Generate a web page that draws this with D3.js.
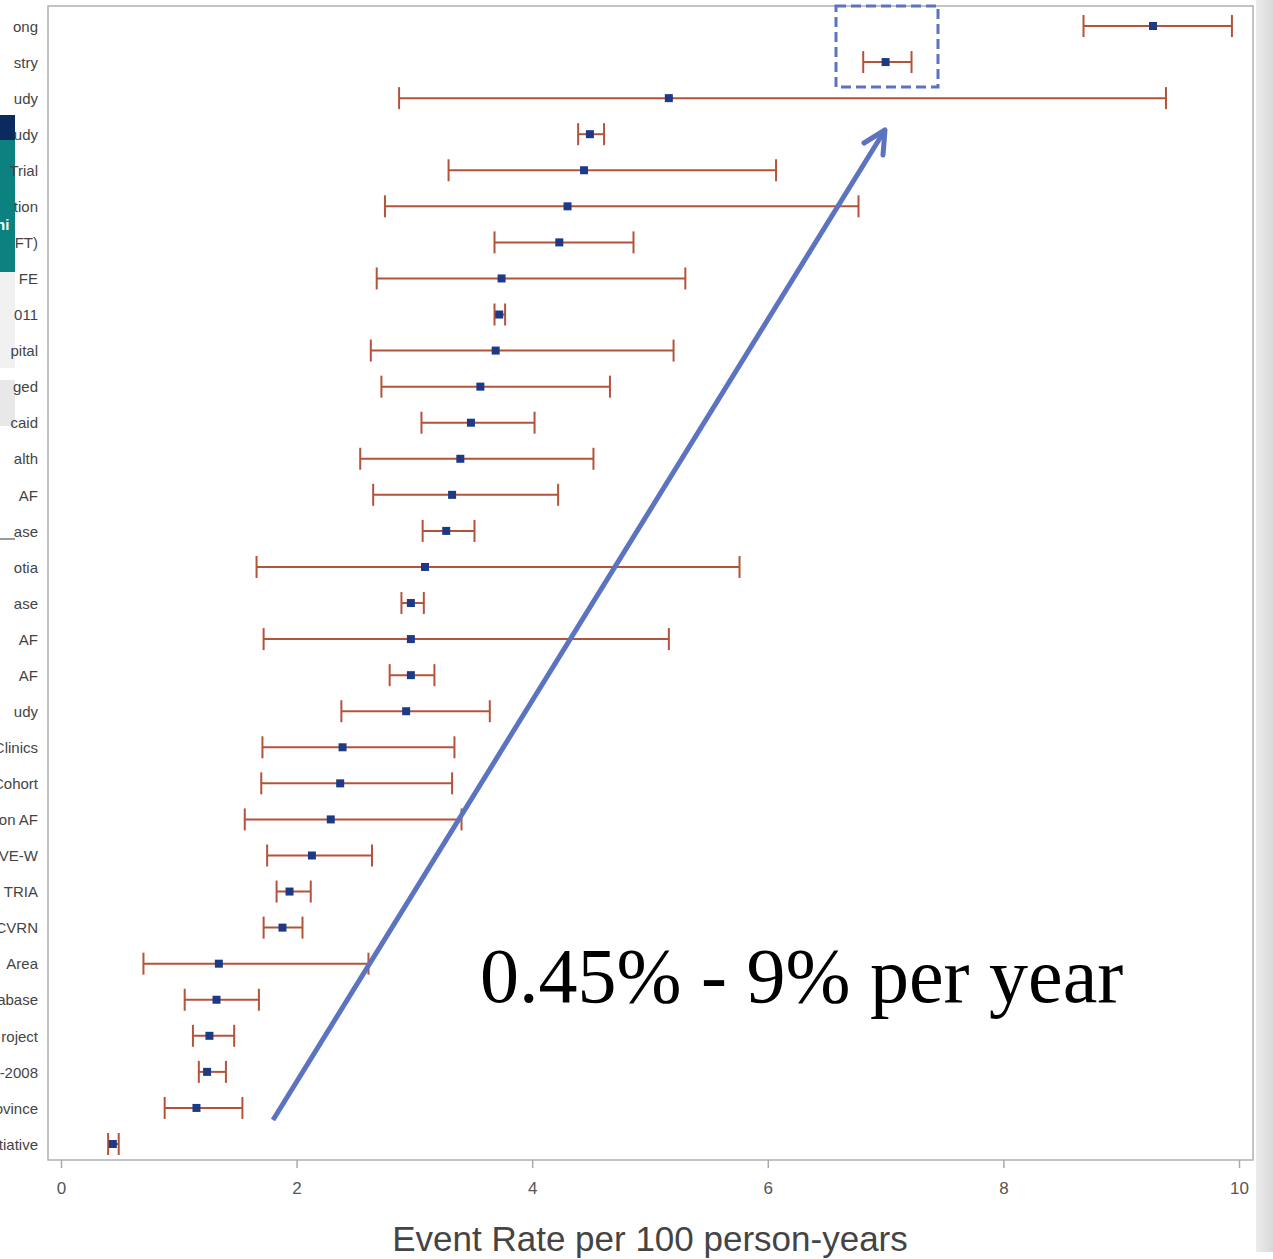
<!DOCTYPE html>
<html>
<head>
<meta charset="utf-8">
<script src="https://cdn.jsdelivr.net/npm/d3@7"></script>
<style>
  body { margin: 0; background: #fff; }
  svg { display: block; }
</style>
</head>
<body>
<script>
// visible (clipped) study labels, top to bottom
const labels = ["ong", "stry", "udy", "udy", "Trial", "tion", "FT)", "FE", "011", "pital",
  "ged", "caid", "alth", "AF", "ase", "otia", "ase", "AF", "AF", "udy",
  "Clinics", "Cohort", "on AF", "VE-W", "TRIA", "CVRN", "Area", "abase", "roject", "-2008",
  "ovince", "tiative"];
const rates = [9.27, 7.00, 5.16, 4.49, 4.44, 4.30, 4.23, 3.74, 3.72, 3.69,
  3.56, 3.48, 3.39, 3.32, 3.27, 3.09, 2.97, 2.97, 2.97, 2.93,
  2.39, 2.37, 2.29, 2.13, 1.94, 1.88, 1.34, 1.32, 1.26, 1.24,
  1.15, 0.44];
const lower = [8.68, 6.81, 2.87, 4.39, 3.29, 2.75, 3.68, 2.68, 3.68, 2.63,
  2.72, 3.06, 2.54, 2.65, 3.07, 1.66, 2.89, 1.72, 2.79, 2.38,
  1.71, 1.70, 1.56, 1.75, 1.83, 1.72, 0.70, 1.05, 1.12, 1.17,
  0.88, 0.40];
const upper = [9.94, 7.22, 9.38, 4.61, 6.07, 6.77, 4.86, 5.30, 3.77, 5.20,
  4.66, 4.02, 4.52, 4.22, 3.51, 5.76, 3.08, 5.16, 3.17, 3.64,
  3.34, 3.32, 3.40, 2.64, 2.12, 2.05, 2.61, 1.68, 1.47, 1.40,
  1.54, 0.49];
const xTicks = [0, 2, 4, 6, 8, 10];
const xTitle = "Event Rate per 100 person-years";
const note = "0.45% - 9% per year";

const width = 1273, height = 1259;
const frame = {left: 48, right: 1253, top: 6, bottom: 1160};

const svg = d3.select("body").append("svg").attr("width", width).attr("height", height);

// slide background bits around the chart
const grad = svg.append("defs").append("linearGradient").attr("id", "side")
  .attr("x1", 0).attr("x2", 1).attr("y1", 0).attr("y2", 0);
grad.append("stop").attr("offset", 0).attr("stop-color", "#ececec");
grad.append("stop").attr("offset", 1).attr("stop-color", "#d9d9d9");
svg.append("rect").attr("x", 1256).attr("y", 0).attr("width", 17).attr("height", 1252).attr("fill", "url(#side)");

svg.append("rect").attr("x", 0).attr("y", 115).attr("width", 15).attr("height", 25).attr("fill", "#0d2a5e");
svg.append("rect").attr("x", 0).attr("y", 140).attr("width", 15).attr("height", 132).attr("fill", "#0b8280");
svg.append("text").attr("x", -4).attr("y", 230).attr("fill", "#fff")
  .attr("font-family", "Liberation Sans, Arial, sans-serif").attr("font-size", 15).attr("font-weight", "bold").text("ni");
svg.append("rect").attr("x", 0).attr("y", 272).attr("width", 15).attr("height", 96).attr("fill", "#f1f1f1");
svg.append("rect").attr("x", 0).attr("y", 380).attr("width", 15).attr("height", 46).attr("fill", "#e8e8e8");
svg.append("rect").attr("x", 0).attr("y", 538).attr("width", 15).attr("height", 2).attr("fill", "#9a9a9a");

const x = d3.scaleLinear().domain([0, 10]).range([61, 1239]);
const y = d3.scalePoint().domain(d3.range(labels.length)).range([26, 1144]);

// plot frame
svg.append("rect").attr("x", frame.left).attr("y", frame.top)
  .attr("width", frame.right - frame.left).attr("height", frame.bottom - frame.top)
  .attr("fill", "#fff").attr("stroke", "#b0b0b0").attr("stroke-width", 1.5);

// x axis
const xAxis = svg.append("g").attr("transform", `translate(0,${frame.bottom})`)
  .call(d3.axisBottom(x).tickValues(xTicks).tickSize(8).tickPadding(14).tickFormat(d3.format("d")));
xAxis.select(".domain").remove();
xAxis.selectAll("line").attr("stroke", "#aaa").attr("stroke-width", 1.5);
xAxis.selectAll("text").attr("fill", "#555").attr("font-size", 17)
  .attr("font-family", "Liberation Sans, Arial, sans-serif");

svg.append("text").attr("x", 650).attr("y", 1251).attr("text-anchor", "middle")
  .attr("fill", "#444").attr("font-size", 35).attr("font-family", "Liberation Sans, Arial, sans-serif")
  .text(xTitle);

// row labels
svg.append("g").selectAll("text").data(labels).join("text")
  .attr("x", 38).attr("y", (d, i) => y(i)).attr("dy", "0.38em").attr("text-anchor", "end")
  .attr("fill", "#444").attr("font-size", 15).attr("font-family", "Liberation Sans, Arial, sans-serif")
  .text(d => d);

// error bars
const rows = svg.append("g").selectAll("g").data(rates).join("g")
  .attr("transform", (d, i) => `translate(0,${y(i)})`);
const barColor = "#b4533a";
rows.append("line").attr("x1", (d, i) => x(lower[i])).attr("x2", (d, i) => x(upper[i]))
  .attr("stroke", barColor).attr("stroke-width", 2);
rows.append("line").attr("x1", (d, i) => x(lower[i])).attr("x2", (d, i) => x(lower[i]))
  .attr("y1", -11).attr("y2", 11).attr("stroke", barColor).attr("stroke-width", 2);
rows.append("line").attr("x1", (d, i) => x(upper[i])).attr("x2", (d, i) => x(upper[i]))
  .attr("y1", -11).attr("y2", 11).attr("stroke", barColor).attr("stroke-width", 2);
rows.append("rect").attr("x", d => x(d) - 4).attr("y", -4).attr("width", 8).attr("height", 8)
  .attr("fill", "#1d3a86");

// annotations: dashed box around the registry row and rising arrow
const blue = "#5b73c0";
svg.append("rect").attr("x", 836).attr("y", 6).attr("width", 102).attr("height", 81)
  .attr("fill", "none").attr("stroke", blue).attr("stroke-width", 3).attr("stroke-dasharray", "10,5");

const a0 = [273, 1120], a1 = [885, 130];
svg.append("line").attr("x1", a0[0]).attr("y1", a0[1]).attr("x2", a1[0]).attr("y2", a1[1])
  .attr("stroke", blue).attr("stroke-width", 5);
svg.append("path").attr("d", `M864,143 L885,130 L883,155`)
  .attr("fill", "none").attr("stroke", blue).attr("stroke-width", 5)
  .attr("stroke-linejoin", "round").attr("stroke-linecap", "round");

svg.append("text").attr("x", 480).attr("y", 1002).attr("fill", "#000")
  .attr("font-family", "Liberation Serif, Times New Roman, serif").attr("font-size", 78)
  .text(note);
</script>
</body>
</html>
